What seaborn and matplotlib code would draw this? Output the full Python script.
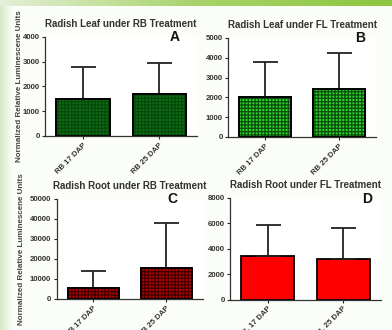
import numpy as np
import pandas as pd
import matplotlib
matplotlib.use("Agg")
import matplotlib.pyplot as plt
import seaborn as sns
from matplotlib.patches import Rectangle
from matplotlib.colors import LinearSegmentedColormap

# bar data (mean + upper SD)
labels_rb = ["RB 17 DAP", "RB 25 DAP"]
labels_fl = ["FL 17 DAP", "FL 25 DAP"]

leaf_rb_mean = [1500, 1700]
leaf_rb_err = [1280, 1230]
leaf_fl_mean = [2000, 2430]
leaf_fl_err = [1800, 1820]
root_rb_mean = [5500, 15700]
root_rb_err = [8700, 22300]
root_fl_mean = [3450, 3200]
root_fl_err = [2450, 2450]

sns.set_style("ticks")
plt.rcParams["font.family"] = ["Liberation Sans", "DejaVu Sans"]
plt.rcParams["hatch.linewidth"] = 0.9

fig = plt.figure(figsize=(3.92, 3.30), dpi=100)
fig.patch.set_facecolor("#fafdf8")

# poster frame bits: green band on top, pale strip on the left
grad = np.linspace(0, 1, 256).reshape(1, -1)
bg = fig.add_axes([0, 0.982, 1, 0.018])
bg.imshow(grad, aspect="auto",
          cmap=LinearSegmentedColormap.from_list("g", ["#e4f0d8", "#a8d36a", "#8cc63f"]))
bg.axis("off")
side = fig.add_axes([0, 0, 0.03, 0.982])
side.imshow(grad[:, ::-1], aspect="auto",
            cmap=LinearSegmentedColormap.from_list("s", ["#fafdf8", "#d3eac4"]))
side.axis("off")

panels = [
    # title, letter, letter pos, labels, means, errs, face, hatch colour, ymax, step, rect
    ("Radish Leaf under RB Treatment", "A", (0.855, 1.0), labels_rb, leaf_rb_mean, leaf_rb_err,
     "#0d6e14", "#07480b", 4000, 1000, [0.115, 0.588, 0.388, 0.300]),
    ("Radish Leaf under FL Treatment", "B", (0.89, 1.0), labels_rb, leaf_fl_mean, leaf_fl_err,
     "#2bd02b", "#0b4d0b", 5000, 1000, [0.582, 0.585, 0.378, 0.300]),
    ("Radish Root under RB Treatment", "C", (0.79, 1.0), labels_rb, root_rb_mean, root_rb_err,
     "#b80000", "#3d0000", 50000, 10000, [0.145, 0.094, 0.372, 0.303]),
    ("Radish Root under FL Treatment", "D", (0.91, 0.99), labels_fl, root_fl_mean, root_fl_err,
     "#ff0000", None, 8000, 2000, [0.587, 0.091, 0.385, 0.309]),
]

for title, letter, lpos, labels, means, errs, color, hcol, ymax, step, rect in panels:
    ax = fig.add_axes(rect)
    ax.set_facecolor("white")
    df = pd.DataFrame({"group": labels, "value": means})
    sns.barplot(data=df, x="group", y="value", ax=ax, color=color, width=0.7,
                edgecolor="black", linewidth=1.3, saturation=1, errorbar=None)
    # checker texture in a darker shade, then the black outline back on top
    for p in list(ax.patches):
        if hcol:
            ax.add_patch(Rectangle((p.get_x(), p.get_y()), p.get_width(), p.get_height(),
                                   fill=False, hatch="+++++", edgecolor=hcol,
                                   linewidth=0, zorder=p.get_zorder() + 0.1))
            ax.add_patch(Rectangle((p.get_x(), p.get_y()), p.get_width(), p.get_height(),
                                   fill=False, edgecolor="black", linewidth=1.3,
                                   zorder=p.get_zorder() + 0.2))
    ax.errorbar(range(len(means)), means, yerr=[[0] * len(errs), errs], fmt="none",
                ecolor="#222222", elinewidth=1.3, capsize=9, capthick=1.3, zorder=1)
    ax.set_xlim(-0.5, 1.5)
    ax.set_ylim(0, ymax)
    ax.set_yticks(np.arange(0, ymax + 1, step))
    ax.set_xlabel("")
    ax.set_ylabel("")
    ax.set_xticks([0, 1])
    ax.set_xticklabels(labels, rotation=45, ha="right", rotation_mode="anchor",
                       fontweight="bold", color="#333333")
    ax.tick_params(length=2.5, width=0.8, pad=1.5, labelsize=5.6, labelcolor="#333333")
    for t in ax.get_yticklabels():
        t.set_fontweight("bold")
    sns.despine(ax=ax)
    for s in ["left", "bottom"]:
        ax.spines[s].set_linewidth(0.9)
        ax.spines[s].set_color("#333333")
    ax.set_title(title, fontsize=7, fontweight="bold", color="#333333", pad=7)
    ax.text(lpos[0], lpos[1], letter, transform=ax.transAxes, fontsize=10,
            fontweight="bold", ha="center", va="center", color="#111111")

ylab = "Normalized Relative Luminescene Units"
fig.text(0.05, 0.74, ylab, rotation=90, ha="center", va="center",
         fontsize=5.8, fontweight="bold", color="#444444")
fig.text(0.056, 0.245, ylab, rotation=90, ha="center", va="center",
         fontsize=5.8, fontweight="bold", color="#444444")

fig.savefig("out.png", dpi=100, facecolor=fig.get_facecolor())
